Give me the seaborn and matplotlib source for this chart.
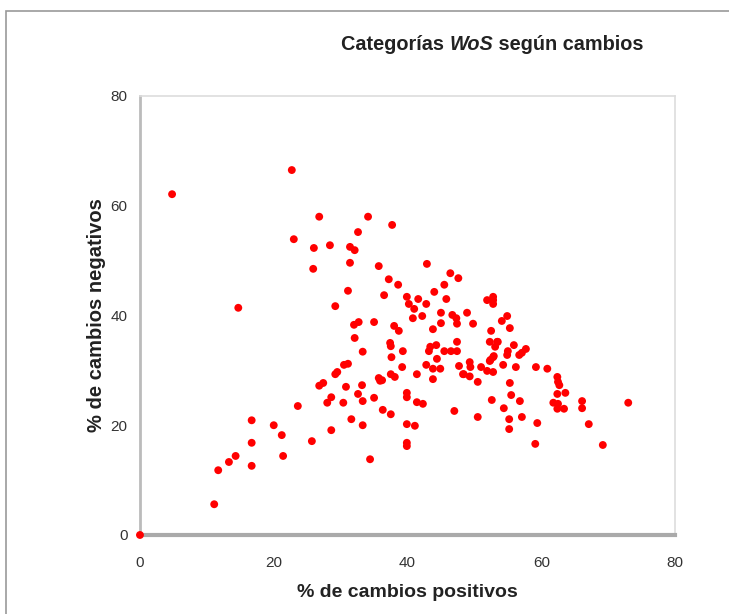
import matplotlib
matplotlib.use("Agg")
import matplotlib.pyplot as plt
import matplotlib.patches as mpatches
import seaborn as sns
import pandas as pd

# % de cambios positivos / negativos por categoría WoS
positivos = [
    0.0, 4.8, 22.7, 14.7, 11.1, 11.7, 13.3, 14.3, 16.7, 16.7, 16.7, 20.0, 21.2, 21.4,
    23.6, 25.7, 26.8, 23.0, 25.9, 26.8, 34.1, 37.7, 32.6, 26.0, 28.4, 31.4, 32.1,
    31.4, 35.7, 42.9, 37.2, 38.6, 46.4, 47.6, 45.5, 31.1, 36.5, 39.9, 41.6, 44.0,
    45.8, 29.2, 40.2, 41.0, 42.8, 45.0, 42.2, 40.8, 46.7, 47.3, 48.9, 45.0, 47.4,
    32.0, 32.7, 35.0, 38.0, 38.7, 43.8, 32.1, 47.4, 37.4, 37.5, 43.4, 44.3,
    49.8, 51.9, 52.8, 52.8, 52.5, 37.6, 39.3, 43.2, 45.5, 46.5, 47.4, 44.4, 39.2,
    42.8, 43.8, 44.9, 43.8, 47.7, 49.3, 51.0, 51.9, 50.5, 48.3, 41.4, 37.5, 38.1,
    36.2, 52.8, 52.6, 53.4, 39.9, 39.9, 41.4, 42.3, 36.3, 37.5, 47.0, 50.5, 39.9,
    41.1, 39.9, 39.9, 33.3, 30.5, 31.1, 29.5, 29.2, 27.4, 30.8, 33.2, 35.7, 35.9,
    49.4, 52.3, 52.8, 52.3, 32.6, 33.3, 28.6, 28.0, 30.4, 35.0, 31.6, 28.6, 33.3,
    34.4, 52.8, 54.1, 54.9, 55.3, 53.5, 53.1, 55.9, 57.7, 57.1, 56.7, 55.0, 54.9,
    52.9, 52.4, 54.3, 56.2, 59.2, 60.9, 48.4, 49.3, 55.3, 55.5, 56.8, 54.4, 55.2,
    57.1, 55.2, 59.4, 59.1, 62.4, 62.5, 62.7, 62.4, 63.6, 61.8, 62.5, 62.4, 63.4,
    66.1, 66.1, 67.1, 69.2, 73.0,
]
negativos = [
    0.0, 62.1, 66.5, 41.4, 5.6, 11.8, 13.3, 14.4, 20.9, 16.8, 12.6, 20.0, 18.2, 14.4,
    23.5, 17.1, 27.2, 53.9, 48.5, 58.0, 58.0, 56.5, 55.2, 52.3, 52.8, 52.5, 51.9,
    49.6, 49.0, 49.4, 46.6, 45.6, 47.7, 46.8, 45.6, 44.5, 43.7, 43.4, 43.0, 44.3,
    43.0, 41.7, 42.1, 41.2, 42.1, 40.5, 39.9, 39.5, 40.1, 39.5, 40.5, 38.6, 38.5,
    38.3, 38.8, 38.8, 38.1, 37.2, 37.5, 35.9, 35.2, 35.0, 34.4, 34.3, 34.6,
    38.5, 42.8, 42.8, 42.1, 37.2, 32.4, 33.5, 33.5, 33.5, 33.5, 33.5, 32.1, 30.6,
    31.0, 30.3, 30.3, 28.4, 30.8, 31.5, 30.6, 29.9, 27.9, 29.3, 29.3, 29.3, 28.8,
    28.2, 29.7, 24.6, 35.2, 25.9, 25.1, 24.2, 23.9, 22.8, 22.0, 22.6, 21.5, 20.2,
    19.9, 16.8, 16.2, 33.4, 31.0, 31.2, 29.7, 29.3, 27.7, 27.0, 27.3, 28.6, 28.1,
    30.6, 31.7, 32.4, 35.2, 25.7, 24.4, 25.1, 24.1, 24.1, 25.0, 21.1, 19.1, 20.0,
    13.8, 43.4, 39.0, 39.9, 37.7, 35.2, 34.3, 34.6, 33.9, 33.2, 32.8, 33.5, 32.8,
    32.6, 31.9, 31.0, 30.6, 30.6, 30.3, 29.3, 28.9, 27.7, 25.5, 24.4, 23.1, 21.1,
    21.5, 19.3, 20.4, 16.6, 28.8, 27.9, 27.3, 25.7, 25.9, 24.1, 23.9, 23.0, 23.0,
    24.4, 23.1, 20.2, 16.4, 24.1,
]
ticks = [0, 20, 40, 60, 80]

df = pd.DataFrame({"pos": positivos, "neg": negativos})

sns.set_style("white")
plt.rcParams["font.family"] = ["Liberation Sans", "DejaVu Sans"]

fig = plt.figure(figsize=(7.29, 6.14), dpi=100)
ax = fig.add_axes([0.192, 0.1287, 0.734, 0.715])

sns.scatterplot(data=df, x="pos", y="neg", ax=ax, color="#ff0000",
                s=32, edgecolor="none", linewidth=0, clip_on=False, zorder=3)

ax.set_xlim(0, 80)
ax.set_ylim(0, 80)
ax.set_xticks(ticks)
ax.set_yticks(ticks)
ax.set_xticklabels([str(t) for t in ticks])
ax.set_yticklabels([str(t) for t in ticks])
ax.tick_params(axis="both", direction="out", labelsize=11, labelcolor="#333333",
               color="#999999", width=1)
ax.tick_params(axis="y", length=5, pad=4)
ax.tick_params(axis="x", length=4, pad=11)

ax.spines["left"].set_color("#bbbbbb")
ax.spines["left"].set_linewidth(2)
ax.spines["bottom"].set_color("#aaaaaa")
ax.spines["bottom"].set_linewidth(3)
for side in ("top", "right"):
    ax.spines[side].set_color("#dddddd")
    ax.spines[side].set_linewidth(1.2)

ax.set_xlabel("% de cambios positivos", fontsize=14, fontweight="bold",
              color="#222222", labelpad=10)
ax.set_ylabel("% de cambios negativos", fontsize=14.5, fontweight="bold",
              color="#222222", labelpad=3)

# Título con "WoS" en cursiva, compuesto por tramos consecutivos
fig.canvas.draw()
renderer = fig.canvas.get_renderer()
parts = [("Categorías ", "normal"), ("WoS", "italic"), (" según cambios", "normal")]
texts = []
for s, style in parts:
    t = fig.text(0, 0.927, s, fontsize=14.3, fontweight="bold", style=style,
                 color="#222222", ha="left", va="center")
    texts.append(t)
widths = [t.get_window_extent(renderer).width / fig.bbox.width for t in texts]
x = 0.675 - sum(widths) / 2
for t, w in zip(texts, widths):
    t.set_x(x)
    x += w

# Marco exterior de la figura
frame = mpatches.Rectangle((6 / 729, -0.1), 1.2, 1 - 11 / 614 + 0.1,
                           transform=fig.transFigure, fill=False,
                           edgecolor="#999999", linewidth=1.2)
fig.patches.append(frame)

fig.savefig("out.png", dpi=100)
